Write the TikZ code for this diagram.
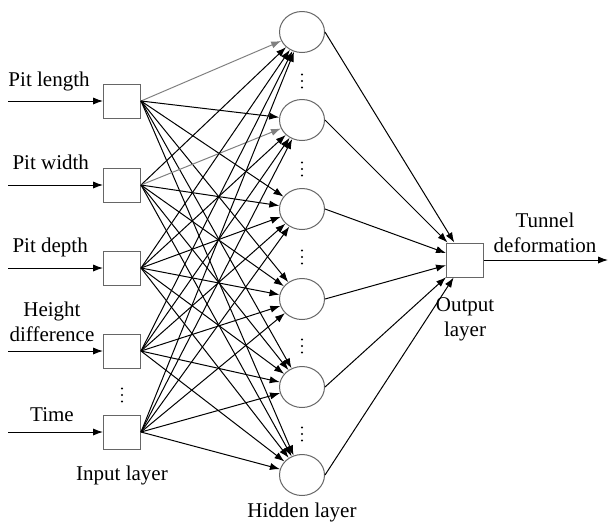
\documentclass[tikz,border=0pt]{standalone}
\usepackage{fontspec}
\setmainfont{Liberation Serif}
\usetikzlibrary{positioning,arrows.meta,shapes.geometric}

\begin{document}
\begin{tikzpicture}[x=0.5pt, y=-0.5pt, line width=0.5pt,
        >={Latex[length=5pt,width=3.6pt]}]
        \tikzset{
            unit/.style={rectangle, draw=gray!80!black, minimum width=18.5pt, minimum height=17pt, inner sep=0pt},
            neuron/.style={ellipse, draw=gray!80!black, minimum width=22.5pt, minimum height=20.5pt, inner sep=0pt},
            lbl/.style={font=\fontsize{10.5}{12.5}\selectfont, align=center, inner sep=0pt},
            skipdot/.style={fill=black, radius=0.6pt}
        }
        \useasboundingbox (0,0) rectangle (608,526);

        % input layer
        \foreach \y [count=\i] in {101,185,268,351,432} {
            \node[unit] (in\i) at (122,\y) {};
            \coordinate (src\i) at (8,\y);
            \draw[->] (src\i) -- (in\i);
        }
        \node[lbl, anchor=base west] (lab1) at (8,86) {Pit length};
        \node[lbl, anchor=base west] (lab2) at (12,169) {Pit width};
        \node[lbl, anchor=base west] (lab3) at (12,252) {Pit depth};
        \node[lbl] (lab4) at (52,322) {Height\\difference};
        \node[lbl, anchor=base] (lab5) at (52,421) {Time};
        \foreach \d in {-6.5,0,6.5}
            \fill[skipdot] (122,395+\d) circle;
        \node[lbl, anchor=base] (inlayer) at (122,480) {Input layer};

        % hidden layer
        \foreach \y [count=\j] in {32,120,209,299,387,475}
            \node[neuron] (hid\j) at (302,\y) {};
        \foreach \y in {81,169,257,346,434}
            \foreach \d in {-6.5,0,6.5}
                \fill[skipdot] (302,\y+\d) circle;
        \node[lbl, anchor=base] (hidlayer) at (302,517) {Hidden layer};

        % output layer
        \node[unit] (out) at (465,260) {};
        \node[lbl, below=10pt of out] (outlayer) {Output\\layer};
        \coordinate (sink) at (608,260);
        \draw[->] (out) -- (sink);
        \node[lbl, anchor=south] (target) at (545,253) {Tunnel\\deformation};

        % full connections
        \foreach \i in {1,...,5}
            \foreach \j in {1,...,6} {
                \ifnum\i=\j \ifnum\i<3 \def\wirecol{gray}\else\def\wirecol{black}\fi
                \else\def\wirecol{black}\fi
                \draw[->, \wirecol] (in\i.east) -- (hid\j);
            }
        \foreach \j in {1,...,6}
            \draw[->] (hid\j.east) -- (out);
    \end{tikzpicture}
\end{document}
